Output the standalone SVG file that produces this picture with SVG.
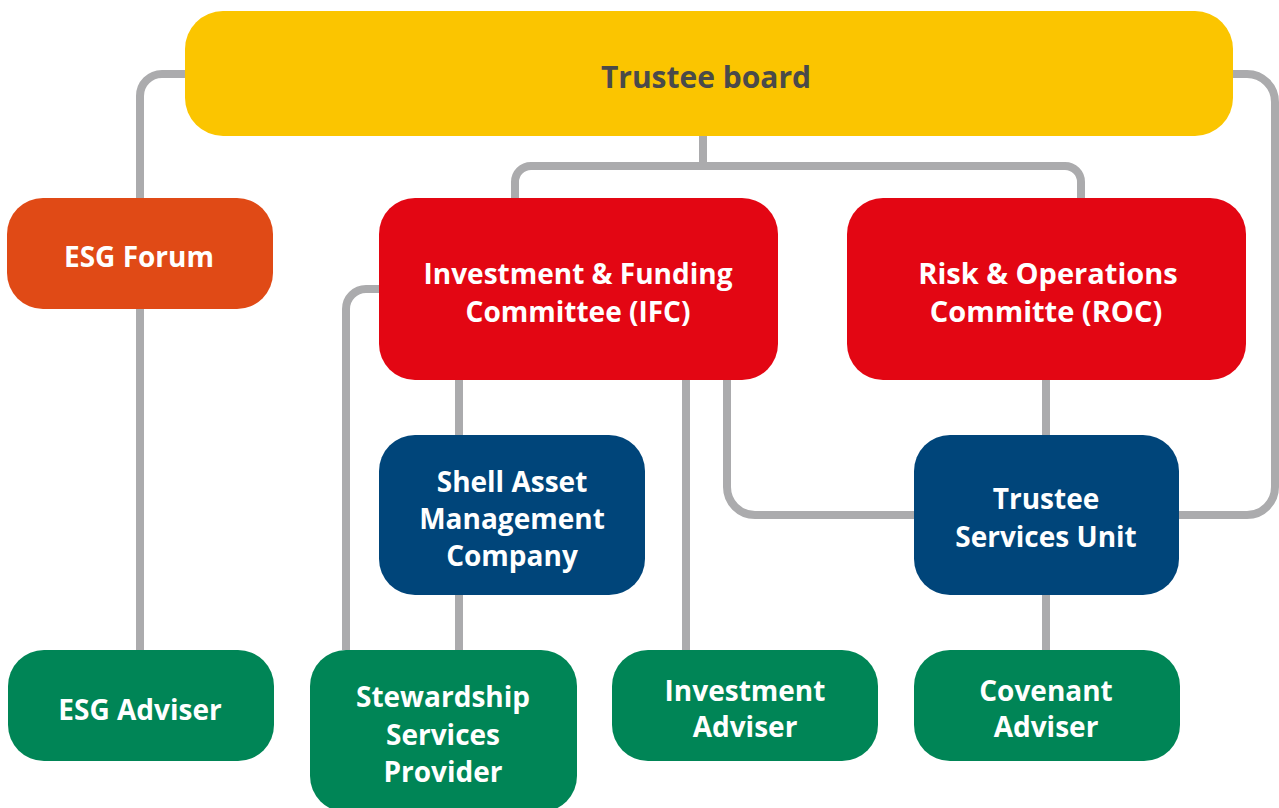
<svg xmlns="http://www.w3.org/2000/svg" width="1279" height="808" viewBox="0 0 1279 808">
<style>
.c{fill:none;stroke:#ABABAD;stroke-width:8;stroke-linecap:butt}
.t{font-family:"Open Sans","Liberation Sans",sans-serif;font-weight:700;font-size:28px;fill:#FFFFFF;text-anchor:middle}
.yel{fill:#FBC500}.org{fill:#E04A16}.red{fill:#E30613}.nav{fill:#00457A}.grn{fill:#008556}
</style>
<rect width="1279" height="808" fill="#FFFFFF"/>
<g id="connectors">
<path class="c" d="M185 74 H162 A22 22 0 0 0 140 96 V198"/>
<path class="c" d="M140 309 V650"/>
<path class="c" d="M703 136 V166"/>
<path class="c" d="M515 198 V182 A16 16 0 0 1 531 166 H1065 A16 16 0 0 1 1081 182 V198"/>
<path class="c" d="M379 289 H366 A20 20 0 0 0 346 309 V650"/>
<path class="c" d="M459 380 V435"/>
<path class="c" d="M459 595 V650"/>
<path class="c" d="M686 380 V650"/>
<path class="c" d="M727 380 V487 A28 28 0 0 0 755 515 H914"/>
<path class="c" d="M1046 380 V435"/>
<path class="c" d="M1046 595 V650"/>
<path class="c" d="M1233 74 H1247 A28 28 0 0 1 1275 102 V487 A28 28 0 0 1 1247 515 H1179"/>
</g>
<g id="trustee-board">
<rect class="yel" x="185" y="11" width="1048" height="125" rx="38"/>
<text class="t" x="706" y="88" style="font-size:30px;fill:#4A4A4A">Trustee board</text>
</g>
<g id="esg-forum">
<rect class="org" x="7" y="198" width="266" height="111" rx="36"/>
<text class="t" x="139" y="267">ESG Forum</text>
</g>
<g id="ifc">
<rect class="red" x="379" y="198" width="399" height="182" rx="36"/>
<text class="t" x="578" y="284">Investment &amp; Funding</text>
<text class="t" x="578" y="322">Committee (IFC)</text>
</g>
<g id="roc">
<rect class="red" x="847" y="198" width="399" height="182" rx="36"/>
<text class="t" x="1048" y="284" style="font-size:29px">Risk &amp; Operations</text>
<text class="t" x="1046" y="322" style="font-size:29px">Committe (ROC)</text>
</g>
<g id="shell-asset-management">
<rect class="nav" x="379" y="435" width="266" height="160" rx="36"/>
<text class="t" x="512" y="492">Shell Asset</text>
<text class="t" x="512" y="529">Management</text>
<text class="t" x="512" y="566">Company</text>
</g>
<g id="trustee-services-unit">
<rect class="nav" x="914" y="435" width="265" height="160" rx="36"/>
<text class="t" x="1046" y="509">Trustee</text>
<text class="t" x="1046" y="547">Services Unit</text>
</g>
<g id="esg-adviser">
<rect class="grn" x="8" y="650" width="266" height="111" rx="36"/>
<text class="t" x="140" y="720">ESG Adviser</text>
</g>
<g id="stewardship">
<rect class="grn" x="310" y="650" width="267" height="162" rx="36"/>
<text class="t" x="443" y="707">Stewardship</text>
<text class="t" x="443" y="745">Services</text>
<text class="t" x="443" y="782">Provider</text>
</g>
<g id="investment-adviser">
<rect class="grn" x="612" y="650" width="266" height="111" rx="36"/>
<text class="t" x="745" y="701">Investment</text>
<text class="t" x="745" y="737">Adviser</text>
</g>
<g id="covenant-adviser">
<rect class="grn" x="914" y="650" width="266" height="111" rx="36"/>
<text class="t" x="1046" y="701">Covenant</text>
<text class="t" x="1046" y="737">Adviser</text>
</g>
</svg>
